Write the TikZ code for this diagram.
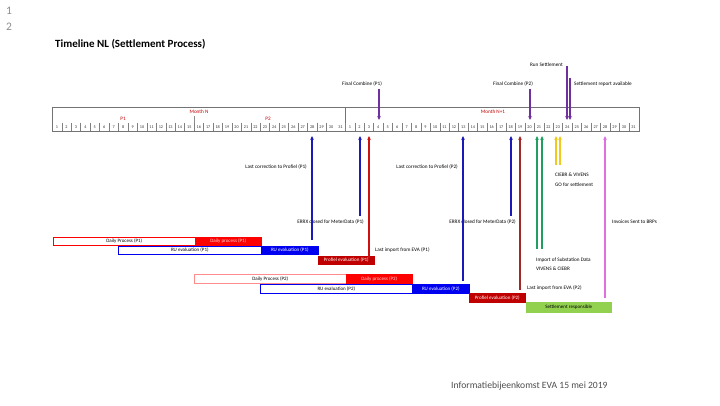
\documentclass[tikz,border=0pt]{standalone}
\usepackage{fontspec}
\setmainfont{Carlito}
\usetikzlibrary{arrows.meta}
\definecolor{cpurple}{HTML}{7030A0}
\definecolor{cblue}{HTML}{1A1AB8}
\definecolor{cred}{HTML}{D01010}
\definecolor{cmaroon}{HTML}{A02828}
\definecolor{cgreen}{HTML}{20A060}
\definecolor{cyellow}{HTML}{F0C81E}
\definecolor{cpink}{HTML}{E070E0}
\definecolor{boxred}{HTML}{FF0000}
\definecolor{boxdred}{HTML}{C00000}
\definecolor{boxblue}{HTML}{0000F0}
\definecolor{boxgreen}{HTML}{92D050}
\definecolor{monthred}{HTML}{C00000}
\tikzset{
  lbl/.style={font=\fontsize{5.2}{6}\selectfont, inner sep=0pt},
  daynum/.style={font=\fontsize{4.2}{4.5}\selectfont, inner sep=0pt, text=black!80},
  arr/.style={line width=1.1pt, -{Stealth[length=4pt,width=3.6pt]}},
  bar/.style={anchor=north west, inner sep=0pt, font=\fontsize{5}{5.5}\selectfont, line width=0.6pt},
}
\begin{document}
\begin{tikzpicture}[x=1pt,y=-1pt]
\path[use as bounding box] (0,0) rectangle (720,405);
% page numbers, title, footer
\node[anchor=west, inner sep=0pt, text=black!45, font=\fontsize{11.5}{12}\selectfont] (n1) at (6,11) {1};
\node[anchor=west, inner sep=0pt, text=black!45, font=\fontsize{11.5}{12}\selectfont] (n2) at (6,27) {2};
\node[anchor=west, inner sep=0pt, font=\bfseries\fontsize{11}{12}\selectfont] (title) at (55,44) {Timeline NL (Settlement Process)};
\node[anchor=west, inner sep=0pt, text=black!70, font=\fontsize{9.6}{11}\selectfont] (footer) at (451,386) {Informatiebijeenkomst EVA 15 mei 2019};
% timeline table
\draw[black!55, line width=0.5pt] (52,107) rectangle (639,131);
\draw[black!55, line width=0.5pt] (345.5,107) -- (345.5,131);
\draw[black!45, line width=0.4pt] (194,116) -- (194,131);
\node[lbl, text=monthred] (mN) at (199,112) {Month N};
\node[lbl, text=monthred] (mN1) at (493,112) {Month N+1};
\node[lbl, text=monthred] (pA) at (123,119) {P1};
\node[lbl, text=monthred] (pB) at (268,119) {P2};
\foreach \i in {0,...,61}{
  \pgfmathtruncatemacro{\dd}{\i<31 ? \i+1 : \i-30}
  \node[daynum] (d\i) at ({57+9.45*\i},127) {\dd};
}
\foreach \i in {1,...,29,31,32,...,61}{
  \draw[black!50, line width=0.35pt] ({57+9.45*\i-4.72},122.5) -- ({57+9.45*\i-4.72},131);
}
% bars P1
\node[bar, draw=boxred, fill=white, minimum width=142pt, minimum height=8pt] (dpA) at (53,237) {Daily Process (P1)};
\node[bar, draw=boxred, fill=boxred, text=red!15, minimum width=66pt, minimum height=8pt] (dpB) at (195,237) {Daily process (P1)};
\node[bar, draw=boxblue, fill=white, minimum width=143pt, minimum height=8pt] (ruA) at (118,246) {RU evaluation (P1)};
\node[bar, draw=boxblue, fill=boxblue, text=white, minimum width=57pt, minimum height=8pt] (ruB) at (261,246) {RU evaluation (P1)};
\node[bar, draw=boxdred, fill=boxdred, text=white, minimum width=56pt, minimum height=8pt] (peA) at (318,256) {Profiel evaluation (P1)};
% bars P2
\node[bar, draw=red!45, fill=white, minimum width=152pt, minimum height=9pt] (dpC) at (194,274) {Daily Process (P2)};
\node[bar, draw=boxred, fill=boxred, text=red!15, minimum width=66pt, minimum height=9pt] (dpD) at (346,274) {Daily process (P2)};
\node[bar, draw=boxblue, fill=white, minimum width=152pt, minimum height=9pt] (ruC) at (260,284) {RU evaluation (P2)};
\node[bar, draw=boxblue, fill=boxblue, text=white, minimum width=57pt, minimum height=9pt] (ruD) at (412,284) {RU evaluation (P2)};
\node[bar, draw=boxdred, fill=boxdred, text=white, minimum width=56pt, minimum height=9pt] (peB) at (469,293) {Profiel evaluation (P2)};
\node[bar, draw=boxgreen, fill=boxgreen, text=black, minimum width=85pt, minimum height=10pt] (srp) at (526,302) {Settlement responsible};
% labels below
\node[lbl, anchor=east] (tbcA) at (307,167) {Last correction to Profiel (P1)};
\node[lbl, anchor=east] (tbeA) at (364,222) {ERRX closed for MeterData (P1)};
\node[lbl, anchor=west] (trA) at (375,250) {Last import from EVA (P1)};
\node[lbl, anchor=east] (tbcB) at (458,167) {Last correction to Profiel (P2)};
\node[lbl, anchor=east] (tbeB) at (516,222) {ERRX closed for MeterData (P2)};
\node[lbl, anchor=west] (trB) at (527,288) {Last import from EVA (P2)};
\node[lbl, anchor=west] (tg1) at (536,260) {Import of Substation Data};
\node[lbl, anchor=west] (tg2) at (536,269) {VIVENS \& CIEBR};
\node[lbl, anchor=west] (ty1) at (555,175) {CIEBR \& VIVENS};
\node[lbl, anchor=west] (ty2) at (555,185) {GO for settlement};
\node[lbl, anchor=west] (tpk) at (612,222) {Invoices Sent to BRPs};
% labels above
\node[lbl] (tfcA) at (362,84) {Final Combine (P1)};
\node[lbl] (tfcB) at (513,84) {Final Combine (P2)};
\node[lbl, anchor=east] (trs) at (563,65) {Run Settlement};
\node[lbl, anchor=west] (tsra) at (574,84) {Settlement report available};
% arrow end points
\foreach \n/\x/\b in {bcA/312/240, beA/360/216, rA/369/258, bcB/463/281, beB/511/216, rB/520/290, gA/537/249, gB/542/249, yA/556/165, yB/560/165, pk/605/298}{
  \coordinate (\n-s) at (\x,\b);
  \coordinate (\n-t) at (\x,136);
}
\foreach \n/\x/\b in {fcA/379/89, fcB/530/89, rs/567/66, sra/570/78}{
  \coordinate (\n-s) at (\x,\b);
  \coordinate (\n-t) at (\x,120);
}
% arrows up
\draw[arr, cblue] (bcA-s) -- (bcA-t);
\draw[arr, cblue] (beA-s) -- (beA-t);
\draw[arr, cred] (rA-s) -- (rA-t);
\draw[arr, cblue] (bcB-s) -- (bcB-t);
\draw[arr, cblue] (beB-s) -- (beB-t);
\draw[arr, cmaroon] (rB-s) -- (rB-t);
\draw[arr, cgreen] (gA-s) -- (gA-t);
\draw[arr, cgreen] (gB-s) -- (gB-t);
\draw[arr, cyellow] (yA-s) -- (yA-t);
\draw[arr, cyellow] (yB-s) -- (yB-t);
\draw[arr, cpink] (pk-s) -- (pk-t);
% arrows down
\draw[arr, cpurple] (fcA-s) -- (fcA-t);
\draw[arr, cpurple] (fcB-s) -- (fcB-t);
\draw[arr, cpurple] (rs-s) -- (rs-t);
\draw[arr, cpurple] (sra-s) -- (sra-t);
\end{tikzpicture}
\end{document}
